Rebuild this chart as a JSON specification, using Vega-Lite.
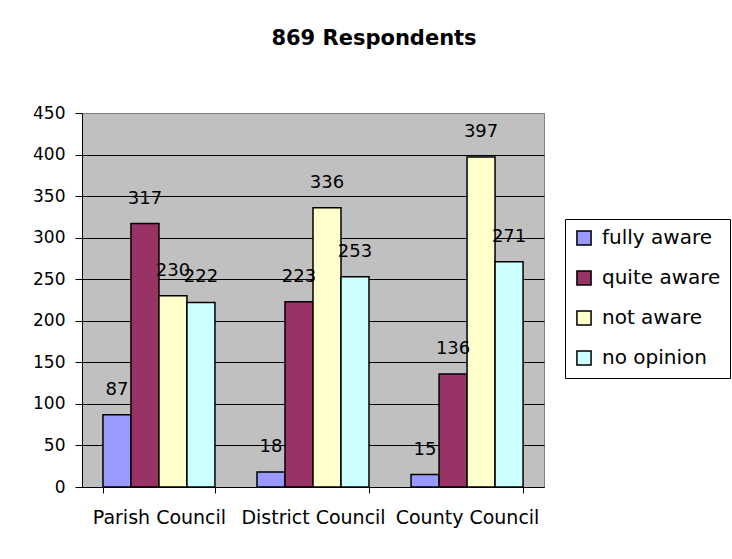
{
  "$schema": "https://vega.github.io/schema/vega-lite/v6.json",
  "width": 462,
  "height": 374,
  "autosize": "none",
  "padding": {"left": 82, "top": 113, "right": 188, "bottom": 72},
  "background": "white",
  "title": {"text": "869 Respondents", "font": "DejaVu Sans", "fontSize": 21, "fontWeight": "bold", "color": "black", "anchor": "middle", "dx": 61, "offset": 38, "baseline": "alphabetic"},
  "data": {"values": [
    {"council": "Parish Council", "response": "fully aware", "count": 87},
    {"council": "Parish Council", "response": "quite aware", "count": 317},
    {"council": "Parish Council", "response": "not aware", "count": 230},
    {"council": "Parish Council", "response": "no opinion", "count": 222},
    {"council": "District Council", "response": "fully aware", "count": 18},
    {"council": "District Council", "response": "quite aware", "count": 223},
    {"council": "District Council", "response": "not aware", "count": 336},
    {"council": "District Council", "response": "no opinion", "count": 253},
    {"council": "County Council", "response": "fully aware", "count": 15},
    {"council": "County Council", "response": "quite aware", "count": 136},
    {"council": "County Council", "response": "not aware", "count": 397},
    {"council": "County Council", "response": "no opinion", "count": 271}
  ]},
  "encoding": {
    "x": {"field": "council", "type": "nominal", "sort": ["Parish Council", "District Council", "County Council"],
      "scale": {"paddingInner": 0.273, "paddingOuter": 0.136},
      "axis": {"title": null, "labelAngle": 0, "tickBand": "extent", "tickSize": 6, "labelPadding": 15, "labelFont": "DejaVu Sans", "labelFontSize": 19, "labelColor": "black", "domainColor": "black", "tickColor": "black", "grid": false}},
    "xOffset": {"field": "response", "type": "nominal", "sort": ["fully aware", "quite aware", "not aware", "no opinion"],
      "scale": {"paddingInner": 0, "paddingOuter": 0}},
    "y": {"field": "count", "type": "quantitative", "scale": {"domain": [0, 450], "nice": false},
      "axis": {"title": null, "values": [0, 50, 100, 150, 200, 250, 300, 350, 400, 450], "tickSize": 7, "labelPadding": 10, "labelFont": "DejaVu Sans", "labelFontSize": 17, "labelColor": "black", "domainColor": "black", "tickColor": "black", "grid": true,
        "gridColor": {"condition": {"test": "datum.value === 450", "value": "#808080"}, "value": "black"}, "gridOpacity": 1, "gridWidth": 1}}
  },
  "layer": [
    {"mark": {"type": "bar", "stroke": "black", "strokeWidth": 1.5},
     "encoding": {"color": {"field": "response", "type": "nominal",
       "scale": {"domain": ["fully aware", "quite aware", "not aware", "no opinion"], "range": ["#9999FF", "#993366", "#FFFFCC", "#CCFFFF"]},
       "legend": {"title": null, "orient": "none", "legendX": 483, "legendY": 106}}}},
    {"mark": {"type": "text", "dy": -20, "baseline": "alphabetic", "font": "DejaVu Sans", "fontSize": 18, "color": "black"},
     "encoding": {"text": {"field": "count", "type": "quantitative"}}}
  ],
  "config": {
    "view": {"fill": "#C0C0C0", "stroke": "#808080", "strokeWidth": 1},
    "legend": {"strokeColor": "black", "fillColor": "white", "padding": 9, "symbolType": "square", "symbolSize": 200, "symbolStrokeColor": "black", "symbolStrokeWidth": 1.5, "symbolOpacity": 1, "labelFont": "DejaVu Sans", "labelFontSize": 20, "labelColor": "black", "rowPadding": 18, "labelOffset": 8}
  }
}
